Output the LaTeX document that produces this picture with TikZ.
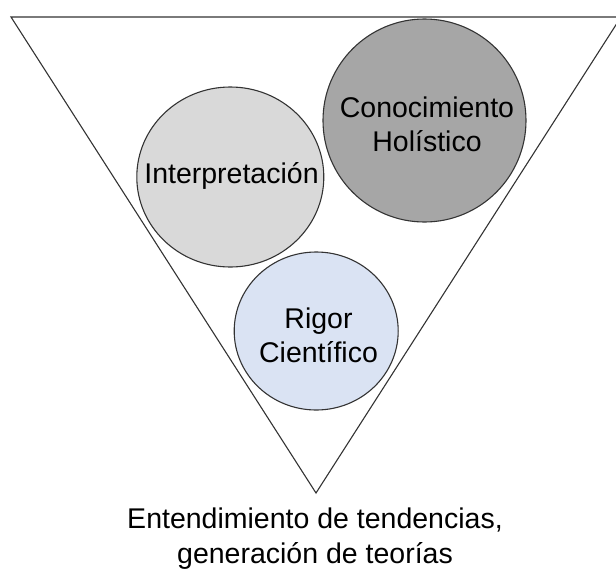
\documentclass[tikz,border=0pt]{standalone}
\usepackage{fontspec}
\setmainfont{Liberation Sans}
\usetikzlibrary{shapes.geometric}
\definecolor{edgecol}{HTML}{333333}
\definecolor{fillA}{HTML}{D9D9D9}
\definecolor{fillB}{HTML}{A6A6A6}
\definecolor{fillC}{HTML}{DAE3F3}
\tikzset{
  blob/.style={ellipse, draw=edgecol, line width=1.1pt, inner sep=0pt},
  lbl/.style={inner sep=0pt, align=center, text=black,
    font=\fontsize{28.5}{34.5}\selectfont},
}
\begin{document}
\begin{tikzpicture}[x=1pt,y=-1pt]
\useasboundingbox (0,0) rectangle (616,568);
\coordinate (tl) at (11,17);
\coordinate (tr) at (621,17);
\coordinate (ap) at (316,493);
\draw[edgecol, line width=1.1pt, line join=miter] (tl) -- (tr) -- (ap) -- cycle;
\node[blob, fill=fillA, minimum width=187pt, minimum height=180pt] (interp) at (230.3,177) {};
\node[blob, fill=fillB, minimum width=203pt, minimum height=203pt] (conoc) at (424.5,120.5) {};
\node[blob, fill=fillC, minimum width=164pt, minimum height=158pt] (rigor) at (316.2,331) {};
\node[lbl, anchor=base] (tinterp) at (231.5,183) {Interpretación};
\node[lbl, anchor=north] (tconoc) at (427,96.5) {Conocimiento\\Holístico};
\node[lbl, anchor=north] (trigor) at (318.5,307.5) {Rigor\\Científico};
\node[lbl, anchor=north] (tbottom) at (315,508) {Entendimiento de tendencias,\\generación de teorías};
\end{tikzpicture}
\end{document}
